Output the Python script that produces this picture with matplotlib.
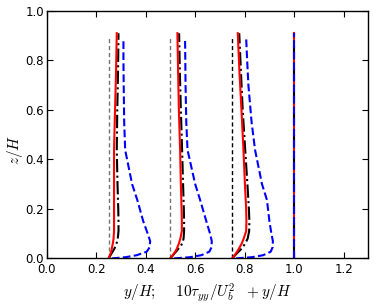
import matplotlib
matplotlib.use("Agg")
import matplotlib.pyplot as plt

plt.rcParams['mathtext.fontset'] = 'cm'
plt.rcParams['font.family'] = ['DejaVu Sans']

# stations (reference positions y/H)
stations = [0.25, 0.5, 0.75]
ref_top = 0.89

# red solid / black dash-dot profiles
z_prof = [0.0, 0.01, 0.02, 0.03, 0.04, 0.06, 0.08, 0.11, 0.15, 0.2, 0.3, 0.44, 0.6, 0.75, 0.91]
red1 = [0.25, 0.254, 0.258, 0.261, 0.263, 0.267, 0.270, 0.272, 0.272, 0.272, 0.272, 0.272, 0.276, 0.280, 0.283]
blk1 = [0.25, 0.256, 0.262, 0.268, 0.274, 0.282, 0.287, 0.290, 0.290, 0.289, 0.286, 0.283, 0.285, 0.288, 0.290]
red2 = [0.50, 0.507, 0.514, 0.521, 0.526, 0.534, 0.540, 0.546, 0.546, 0.545, 0.542, 0.539, 0.534, 0.531, 0.528]
blk2 = [0.50, 0.508, 0.516, 0.525, 0.533, 0.548, 0.553, 0.555, 0.555, 0.554, 0.551, 0.547, 0.542, 0.538, 0.535]
red3 = [0.75, 0.757, 0.764, 0.771, 0.777, 0.788, 0.796, 0.806, 0.807, 0.806, 0.801, 0.795, 0.787, 0.779, 0.772]
blk3 = [0.75, 0.759, 0.768, 0.778, 0.788, 0.802, 0.812, 0.818, 0.819, 0.817, 0.811, 0.802, 0.792, 0.785, 0.778]

# blue dashed profiles
z_blue = [0.0, 0.005, 0.013, 0.027, 0.045, 0.07, 0.1, 0.15, 0.236, 0.3, 0.438, 0.55, 0.7, 0.8, 0.89]
blue1 = [0.263, 0.32, 0.364, 0.404, 0.416, 0.418, 0.408, 0.390, 0.366, 0.345, 0.317, 0.313, 0.311, 0.310, 0.310]
blue2 = [0.515, 0.58, 0.625, 0.657, 0.666, 0.667, 0.660, 0.645, 0.620, 0.600, 0.569, 0.564, 0.561, 0.560, 0.559]
blue3 = [0.765, 0.83, 0.875, 0.905, 0.913, 0.914, 0.908, 0.900, 0.890, 0.870, 0.842, 0.828, 0.815, 0.810, 0.806]

# last station (uniform)
x4 = [1.0, 1.0]
z4 = [0.0, 0.91]

fig = plt.figure(figsize=(3.74, 3.04), dpi=100)
ax = fig.add_axes([0.125, 0.150, 0.860, 0.814])

ref_colors = ['0.45', '0.45', 'k']
for s, c in zip(stations, ref_colors):
    ax.plot([s, s], [0, ref_top], color=c, ls='--', lw=1.0, dashes=(3, 2))

for r, b, bl in [(red1, blk1, blue1), (red2, blk2, blue2), (red3, blk3, blue3)]:
    ax.plot(b, z_prof, color='k', lw=1.5, ls='-.')
    ax.plot(r, z_prof, color='r', lw=1.5)
    ax.plot(bl, z_blue, color='b', lw=1.5, ls='--')

ax.plot(x4, z4, color='r', lw=1.5)
ax.plot(x4, z4, color='k', lw=1.5, ls='-.')
ax.plot(x4, z4, color='b', lw=1.5, ls='--')

ax.set_xlim(0, 1.3)
ax.set_ylim(0, 1.0)
ax.set_xticks([0.0, 0.2, 0.4, 0.6, 0.8, 1.0, 1.2])
ax.set_yticks([0.0, 0.2, 0.4, 0.6, 0.8, 1.0])
ax.tick_params(direction='in', top=True, right=True, length=4, width=0.8, labelsize=8.5)
ax.tick_params(axis='y', pad=2)
ax.tick_params(axis='x', pad=3)
for sp in ax.spines.values():
    sp.set_linewidth(1.0)

ax.set_xlabel(r'$y/H;\quad\ 10\tau_{yy}/U_b^2\ \ +y/H$', fontsize=11)
ax.set_ylabel(r'$z/H$', fontsize=11)
ax.yaxis.set_label_coords(-0.068, 0.44)

fig.savefig('out.png', dpi=100)
